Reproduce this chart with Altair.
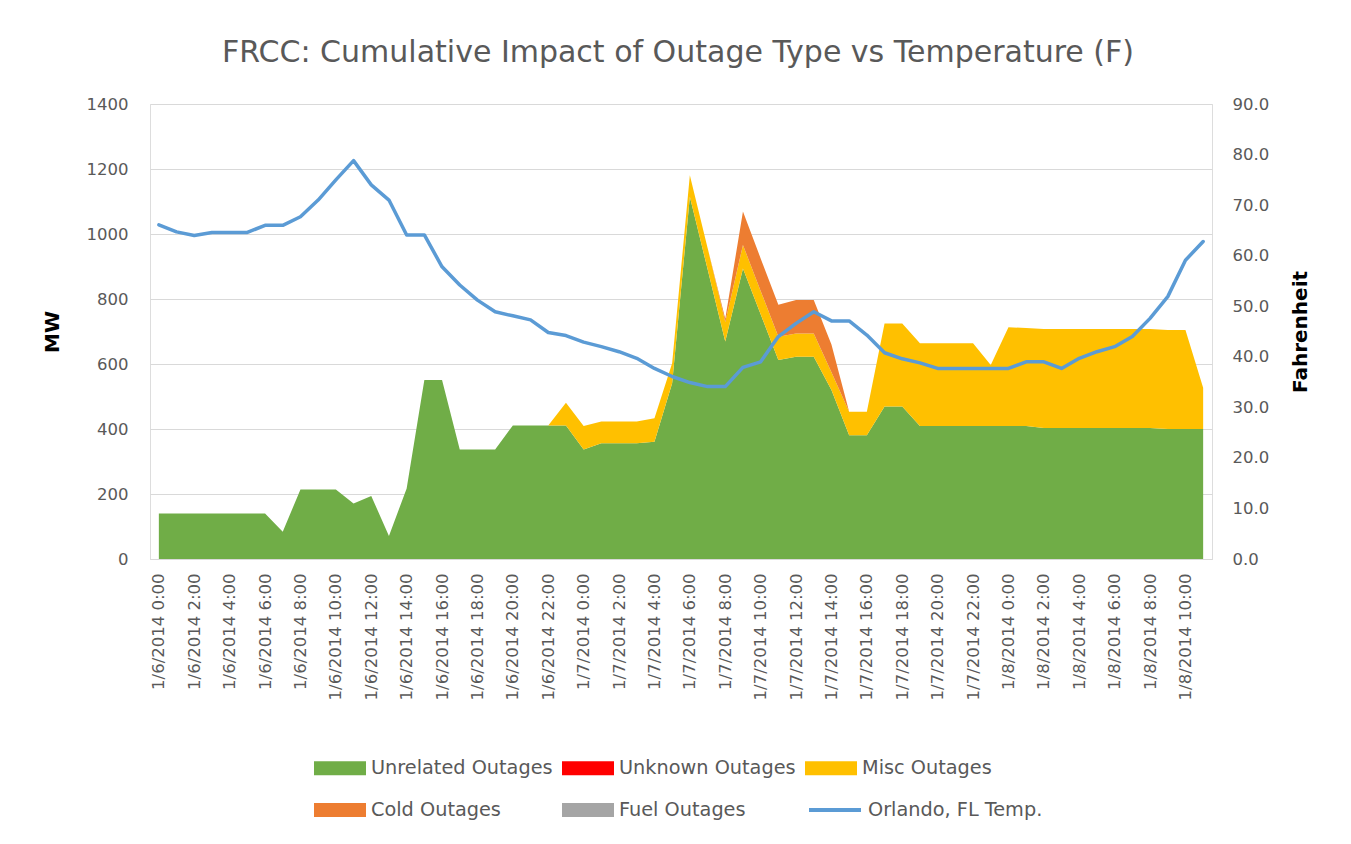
import altair as alt
import pandas as pd

# ---------------- data ----------------
hours = [f"1/{6 + i // 24}/2014 {i % 24}:00" for i in range(60)]

unrelated = [140, 140, 140, 140, 140, 140, 140, 84, 214, 214,
             214, 171, 194, 71, 217, 551, 551, 337, 337, 337,
             411, 411, 411, 411, 337, 356, 356, 356, 361, 541,
             1115, 892, 669, 894, 753, 612, 622, 622, 520, 381,
             381, 469, 469, 409, 409, 409, 409, 409, 409, 409,
             403, 403, 403, 403, 403, 403, 403, 400, 400, 400]
unknown = [0] * 60
misc = [0, 0, 0, 0, 0, 0, 0, 0, 0, 0,
        0, 0, 0, 0, 0, 0, 0, 0, 0, 0,
        0, 0, 0, 70, 72, 67, 67, 67, 72, 61,
        66, 66, 60, 72, 72, 72, 72, 72, 55, 72,
        72, 256, 256, 255, 255, 255, 255, 188, 304, 302,
        305, 305, 305, 305, 305, 305, 305, 305, 305, 127]
cold = [0, 0, 0, 0, 0, 0, 0, 0, 0, 0,
        0, 0, 0, 0, 0, 0, 0, 0, 0, 0,
        0, 0, 0, 0, 0, 0, 0, 0, 0, 0,
        0, 0, 10, 103, 100, 98, 103, 103, 85, 0,
        0, 0, 0, 0, 0, 0, 0, 0, 0, 0,
        0, 0, 0, 0, 0, 0, 0, 0, 0, 0]
fuel = [0] * 60
temp_f = [66.1, 64.7, 64.0, 64.6, 64.6, 64.6, 66.0, 66.0, 67.7, 71.0,
          75.0, 78.8, 74.0, 71.0, 64.1, 64.1, 57.8, 54.2, 51.2, 48.9,
          48.1, 47.3, 44.8, 44.2, 42.9, 42.0, 41.0, 39.7, 37.7, 36.1,
          34.9, 34.1, 34.1, 37.9, 39.0, 44.0, 46.6, 48.9, 47.1, 47.1,
          44.3, 40.8, 39.6, 38.8, 37.7, 37.7, 37.7, 37.7, 37.7, 39.0,
          39.0, 37.7, 39.7, 41.0, 42.0, 44.0, 47.6, 51.9, 59.1, 62.8]

series_names = ["Unrelated Outages", "Unknown Outages", "Misc Outages",
                "Cold Outages", "Fuel Outages"]
series_colors = ["#70AD47", "#FF0000", "#FFC000", "#ED7D31", "#A5A5A5"]
temp_name = "Orlando, FL Temp."
temp_color = "#5B9BD5"

mw_ticks = [0, 200, 400, 600, 800, 1000, 1200, 1400]
temp_ticks = [0, 10, 20, 30, 40, 50, 60, 70, 80, 90]

# ---------------- tables ----------------
rows = []
for k, (name, vals) in enumerate(zip(series_names, [unrelated, unknown, misc, cold, fuel])):
    for i, v in enumerate(vals):
        rows.append({"hour": hours[i], "series": name, "k": k, "mw": v})
area_df = pd.DataFrame(rows)
temp_df = pd.DataFrame({"hour": hours, "temp": temp_f, "series": temp_name})

FONT = "DejaVu Sans"
TXT = "#595959"
GRID = "#D9D9D9"

x_enc = alt.X(
    "hour:N",
    sort=hours,
    scale=alt.Scale(type="point", padding=0.5),
    axis=alt.Axis(
        values=hours[::2], labelAngle=270, title=None, ticks=False,
        domainColor=GRID, domainWidth=1, labelPadding=14, grid=False,
        labelFont=FONT, labelFontSize=16.5, labelColor=TXT, labelLimit=0,
    ),
)

areas = alt.Chart(area_df).mark_area(interpolate="linear").encode(
    x=x_enc,
    y=alt.Y(
        "mw:Q", stack="zero",
        scale=alt.Scale(domain=[0, 1400], nice=False),
        axis=alt.Axis(
            values=mw_ticks, format="d", title="MW", titleFont=FONT, titleFontSize=20,
            titleFontWeight="bold", titleColor="black", titlePadding=24,
            labelFont=FONT, labelFontSize=16.5, labelColor=TXT, labelPadding=22,
            domain=False, ticks=False, grid=True, gridColor=GRID, gridWidth=1,
        ),
    ),
    color=alt.Color(
        "series:N",
        scale=alt.Scale(domain=series_names, range=series_colors),
        legend=alt.Legend(
            title=None, orient="none", legendX=177, legendY=651,
            direction="horizontal", columns=3,
            symbolType="M-2,-0.54H2V0.54H-2Z", symbolSize=676,
            symbolStrokeWidth=0, labelOffset=18,
            labelFont=FONT, labelFontSize=19.3, labelColor=TXT, labelLimit=0,
            columnPadding=9, rowPadding=18,
        ),
    ),
    order=alt.Order("k:Q", sort="ascending"),
)

line = alt.Chart(temp_df).mark_line(
    strokeWidth=3.5, strokeJoin="round", strokeCap="round"
).encode(
    x=x_enc,
    y=alt.Y(
        "temp:Q",
        scale=alt.Scale(domain=[0, 90], nice=False),
        axis=alt.Axis(
            orient="right", values=temp_ticks, format=".1f",
            title="Fahrenheit", titleFont=FONT, titleFontSize=20,
            titleFontWeight="bold", titleColor="black", titleAngle=270,
            titlePadding=42,
            labelFont=FONT, labelFontSize=16.5, labelColor=TXT, labelPadding=20,
            domain=False, ticks=False, grid=False,
        ),
    ),
    stroke=alt.Stroke(
        "series:N",
        scale=alt.Scale(domain=[temp_name], range=[temp_color]),
        legend=alt.Legend(
            title=None, orient="none", legendX=670, legendY=691,
            symbolType="M-2,0H2", symbolSize=676, symbolStrokeWidth=4,
            labelOffset=18, labelFont=FONT, labelFontSize=19.3,
            labelColor=TXT, labelLimit=0,
        ),
    ),
)

chart = alt.layer(areas, line).resolve_scale(
    y="independent"
).properties(
    width=1062,
    height=455,
    title=alt.TitleParams(
        text="FRCC: Cumulative Impact of Outage Type vs Temperature (F)",
        font=FONT, fontSize=30, fontWeight="normal", color=TXT,
        anchor="middle", offset=28, dx=-3,
    ),
    autosize=alt.AutoSizeParams(type="none"),
    padding={"left": 142, "top": 96, "right": 130, "bottom": 275},
).configure_view(stroke=None).configure(background="white")

chart.save("out.html", embed_options={"renderer": "svg", "actions": False})
